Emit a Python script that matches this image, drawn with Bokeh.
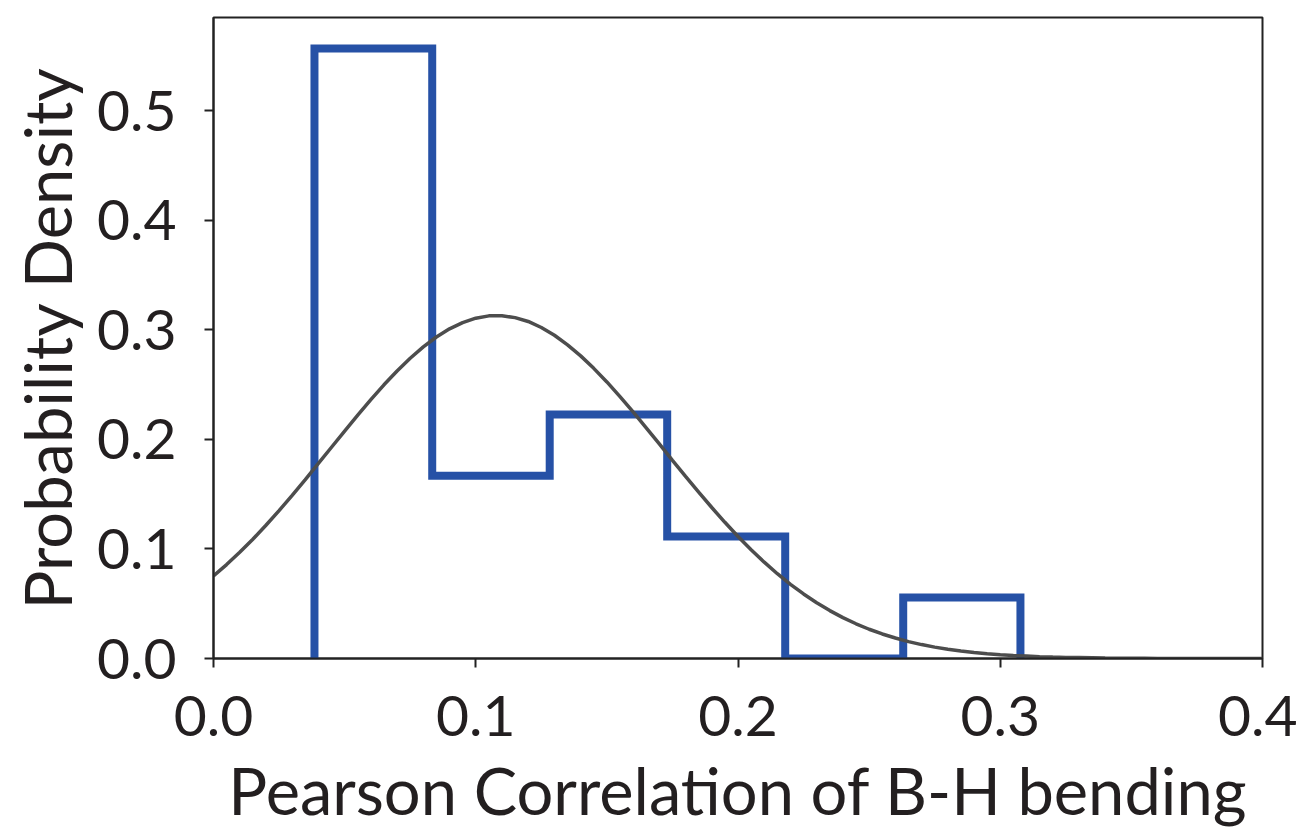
from bokeh.plotting import figure
from bokeh.models import Range1d, FixedTicker
from bokeh.embed import file_html
from bokeh.resources import INLINE

# Histogram (step outline) data
bin_edges = [0.0385, 0.0834, 0.1282, 0.1730, 0.2180, 0.2630, 0.3077]
densities = [0.5566, 0.1667, 0.2226, 0.1113, 0.0, 0.0556]

# Fitted normal curve
curve_x = [0.000, 0.005, 0.010, 0.015, 0.020, 0.025, 0.030, 0.035, 0.040, 0.045,
           0.050, 0.055, 0.060, 0.065, 0.070, 0.075, 0.080, 0.085, 0.090, 0.095,
           0.100, 0.105, 0.110, 0.115, 0.120, 0.125, 0.130, 0.135, 0.140, 0.145,
           0.150, 0.155, 0.160, 0.165, 0.170, 0.175, 0.180, 0.185, 0.190, 0.195,
           0.200, 0.205, 0.210, 0.215, 0.220, 0.225, 0.230, 0.235, 0.240, 0.245,
           0.250, 0.255, 0.260, 0.265, 0.270, 0.275, 0.280, 0.285, 0.290, 0.295,
           0.300, 0.305, 0.310, 0.315, 0.320, 0.325, 0.330, 0.335, 0.340, 0.345,
           0.350, 0.355, 0.360, 0.365, 0.370, 0.375, 0.380, 0.385, 0.390, 0.395,
           0.400]
curve_y = [0.0754, 0.0857, 0.0969, 0.1089, 0.1216, 0.1350, 0.1489, 0.1633, 0.1780, 0.1928,
           0.2076, 0.2221, 0.2363, 0.2498, 0.2624, 0.2740, 0.2844, 0.2934, 0.3009, 0.3066,
           0.3106, 0.3127, 0.3128, 0.3111, 0.3076, 0.3021, 0.2950, 0.2863, 0.2762, 0.2648,
           0.2524, 0.2390, 0.2250, 0.2105, 0.1958, 0.1809, 0.1662, 0.1518, 0.1378, 0.1243,
           0.1114, 0.0993, 0.0879, 0.0774, 0.0677, 0.0589, 0.0509, 0.0437, 0.0373, 0.0317,
           0.0267, 0.0224, 0.0187, 0.0154, 0.0127, 0.0104, 0.0085, 0.0068, 0.0055, 0.0044,
           0.0035, 0.0027, 0.0022, 0.0017, 0.0013, 0.0010, 0.0008, 0.0006, 0.0004, 0.0003,
           0.0002, 0.0002, 0.0001, 0.0001, 0.0001, 0.0000, 0.0000, 0.0000, 0.0000, 0.0000,
           0.0000]

x_ticks = [0.0, 0.1, 0.2, 0.3, 0.4]
y_ticks = [0.0, 0.1, 0.2, 0.3, 0.4, 0.5]

FONT = "Lato"

p = figure(frame_width=1049, frame_height=641, output_backend="svg", toolbar_location=None,
           x_range=Range1d(0.0, 0.4), y_range=Range1d(0.0, 0.585),
           min_border_left=213, min_border_right=35, min_border_top=17, min_border_bottom=150)

# build step outline from edges/densities
sx = [bin_edges[0]]
sy = [0.0]
for i, d in enumerate(densities):
    sx += [bin_edges[i], bin_edges[i + 1]]
    sy += [d, d]
sx.append(bin_edges[-1])
sy.append(0.0)

p.line(sx, sy, line_color="#2651a6", line_width=8, line_join="miter")
p.line(curve_x, curve_y, line_color="#4d4d4d", line_width=3.5)

p.grid.visible = False
p.outline_line_color = "#222222"
p.outline_line_width = 2

p.xaxis.ticker = FixedTicker(ticks=x_ticks)
p.yaxis.ticker = FixedTicker(ticks=y_ticks)
p.xaxis.major_label_overrides = {t: f"{t:.1f}" for t in x_ticks}
p.yaxis.major_label_overrides = {t: f"{t:.1f}" for t in y_ticks}

for ax in (p.xaxis, p.yaxis):
    ax.axis_line_color = "#222222"
    ax.axis_line_width = 2
    ax.major_tick_line_color = "#222222"
    ax.major_tick_line_width = 2
    ax.major_tick_out = 9
    ax.major_tick_in = 0
    ax.minor_tick_line_color = None
    ax.major_label_text_font = FONT
    ax.major_label_text_font_size = "57px"
    ax.major_label_text_color = "#231f20"
    ax.axis_label_text_font = FONT
    ax.axis_label_text_font_size = "65px"
    ax.axis_label_text_font_style = "normal"
    ax.axis_label_text_color = "#231f20"

p.xaxis.axis_label = "Pearson Correlation of B-H bending"
p.yaxis.axis_label = "Probability Density"
p.xaxis.major_label_standoff = 28
p.yaxis.major_label_standoff = 28
p.xaxis.axis_label_standoff = 12
p.yaxis.axis_label_standoff = 8

open("out.html", "w").write(file_html(p, INLINE))
